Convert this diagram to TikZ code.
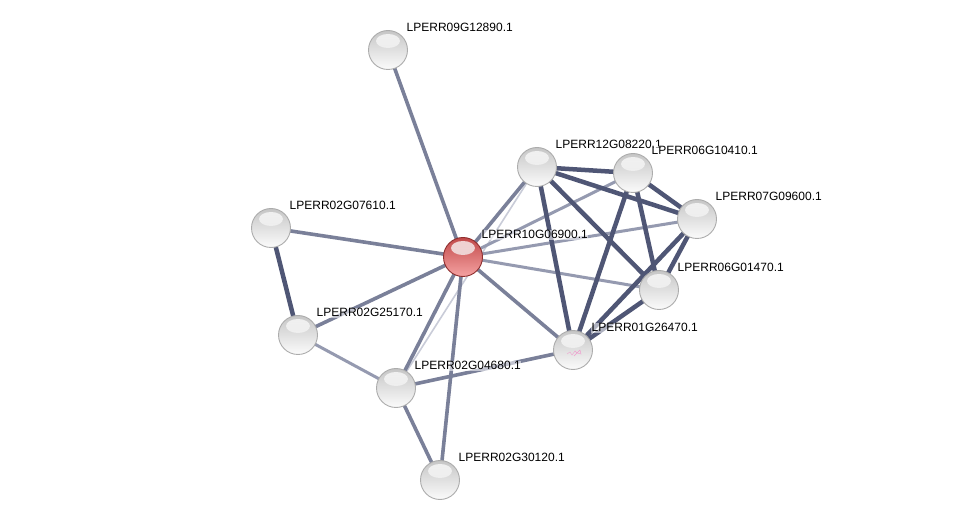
\documentclass[tikz,border=0pt]{standalone}
\usepackage{fontspec}
\setmainfont{Liberation Sans}
\usetikzlibrary{backgrounds}
\definecolor{edgeA}{HTML}{4F5675}
\definecolor{edgeB}{HTML}{7A8099}
\definecolor{edgeC}{HTML}{959AB0}
\definecolor{edgeD}{HTML}{C9CCD8}
\definecolor{redT}{HTML}{C24A4A}
\definecolor{redM}{HTML}{D96868}
\definecolor{redB}{HTML}{F5A2A2}
\definecolor{redR}{HTML}{8E2E2E}
\begin{document}
\begin{tikzpicture}[x=1pt,y=-1pt,
  prot/.style={circle,minimum size=39pt,inner sep=0pt,top color=gray!45,middle color=gray!22,bottom color=gray!3,draw=gray!65,line width=0.9pt,
    path picture={\shade[top color=white,bottom color=white!40!gray!30,opacity=0.75] ([yshift=9pt]path picture bounding box.center) ellipse (12pt and 7pt);}},
  query/.style={prot,top color=redT,middle color=redM,bottom color=redB,draw=redR},
  lbl/.style={anchor=base west,font=\fontsize{12}{14}\selectfont,text=black,inner sep=0.5pt,fill=white,fill opacity=0.55,text opacity=1},
  eA/.style={draw=edgeA,line width=4.5pt},
  eB/.style={draw=edgeB,line width=3.6pt},
  eC/.style={draw=edgeC,line width=3pt},
  eD/.style={draw=edgeD,line width=1.6pt}]
\useasboundingbox (0,0) rectangle (975,526);
% nodes
\node[prot]  (n09) at (388,50) {};
\node[prot]  (n12) at (537,167) {};
\node[prot]  (n0610) at (633,173) {};
\node[prot]  (n07) at (697,219) {};
\node[prot]  (n0207) at (271,228) {};
\node[query] (n10) at (463,257) {};
\node[prot]  (n0601) at (659,290) {};
\node[prot]  (n0225) at (298,335) {};
\node[prot]  (n01) at (573,350) {};
\node[prot]  (n0204) at (396,388) {};
\node[prot]  (n0230) at (440,480) {};
\draw[magenta!50,line width=0.4pt,opacity=0.7] ([xshift=-6pt,yshift=-4pt]n01.center) -- ++(3pt,2pt) -- ++(2pt,-3pt) -- ++(3pt,4pt) -- ++(2pt,-2pt) -- ++(3pt,3pt) -- ++(1pt,-4pt) -- ++(-4pt,1pt) -- ++(-3pt,-3pt);
% labels
\node[lbl] (l09) at ([xshift=18pt,yshift=18pt]n09.center) {LPERR09G12890.1};
\node[lbl] (l12) at ([xshift=18pt,yshift=18pt]n12.center) {LPERR12G08220.1};
\node[lbl] (l0610) at ([xshift=18pt,yshift=18pt]n0610.center) {LPERR06G10410.1};
\node[lbl] (l07) at ([xshift=18pt,yshift=18pt]n07.center) {LPERR07G09600.1};
\node[lbl] (l0207) at ([xshift=18pt,yshift=18pt]n0207.center) {LPERR02G07610.1};
\node[lbl] (l10) at ([xshift=18pt,yshift=18pt]n10.center) {LPERR10G06900.1};
\node[lbl] (l0601) at ([xshift=18pt,yshift=18pt]n0601.center) {LPERR06G01470.1};
\node[lbl] (l0225) at ([xshift=18pt,yshift=18pt]n0225.center) {LPERR02G25170.1};
\node[lbl] (l01) at ([xshift=18pt,yshift=18pt]n01.center) {LPERR01G26470.1};
\node[lbl] (l0204) at ([xshift=18pt,yshift=18pt]n0204.center) {LPERR02G04680.1};
\node[lbl] (l0230) at ([xshift=18pt,yshift=18pt]n0230.center) {LPERR02G30120.1};
% edges
\begin{pgfonlayer}{background}
\fill[white] (0,0) rectangle (975,526);
\draw[eD] (n12.center) -- (n0204.center);
\draw[eC] (n10.center) -- (n0610.center);
\draw[eC] (n10.center) -- (n07.center);
\draw[eC] (n10.center) -- (n0601.center);
\draw[eC] (n0225.center) -- (n0204.center);
\draw[eB] (n10.center) -- (n09.center);
\draw[eB] (n10.center) -- (n0207.center);
\draw[eB] (n10.center) -- (n0225.center);
\draw[eB] (n10.center) -- (n0204.center);
\draw[eB] (n10.center) -- (n0230.center);
\draw[eB] (n10.center) -- (n12.center);
\draw[eB] (n10.center) -- (n01.center);
\draw[eB] (n0204.center) -- (n0230.center);
\draw[eB] (n0204.center) -- (n01.center);
\draw[eA] (n0207.center) -- (n0225.center);
\draw[eA] (n12.center) -- (n0610.center);
\draw[eA] (n12.center) -- (n07.center);
\draw[eA] (n12.center) -- (n0601.center);
\draw[eA] (n12.center) -- (n01.center);
\draw[eA] (n0610.center) -- (n07.center);
\draw[eA] (n0610.center) -- (n0601.center);
\draw[eA] (n0610.center) -- (n01.center);
\draw[eA] (n07.center) -- (n0601.center);
\draw[eA] (n07.center) -- (n01.center);
\draw[eA] (n0601.center) -- (n01.center);
\end{pgfonlayer}
\end{tikzpicture}
\end{document}
